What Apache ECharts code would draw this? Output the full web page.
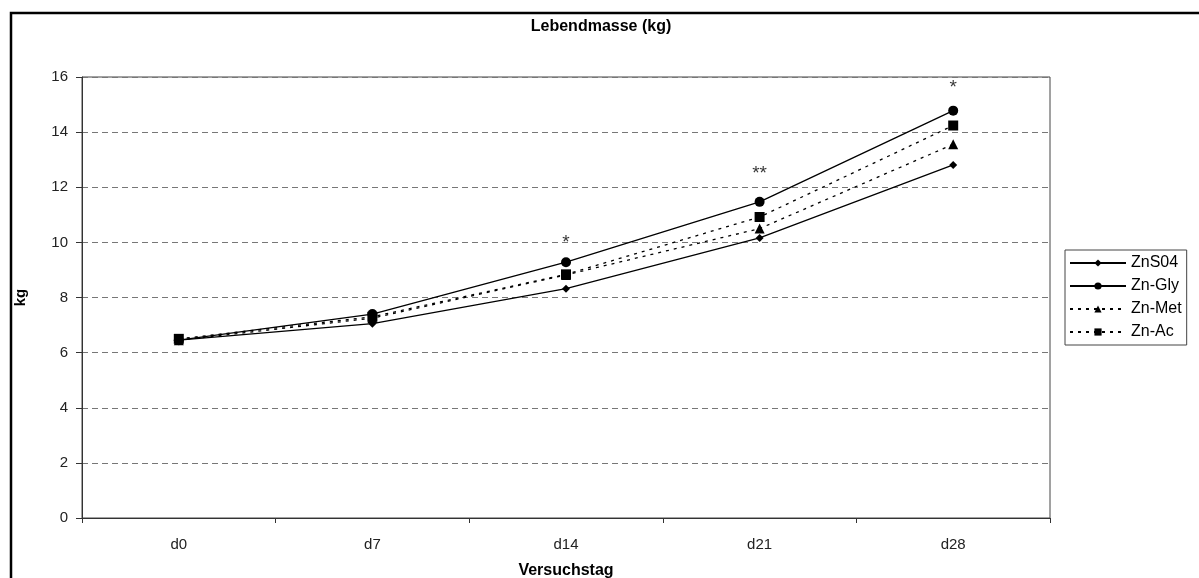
<!DOCTYPE html>
<html>
<head>
<meta charset="utf-8">
<script src="https://cdn.jsdelivr.net/npm/echarts@6/dist/echarts.min.js"></script>
<style>
  html, body { margin: 0; padding: 0; background: #fff; }
  #chart { width: 1199px; height: 578px; }
</style>
</head>
<body>
<div id="chart"></div>
<script>
// Versuchstage
const days = ['d0', 'd7', 'd14', 'd21', 'd28']
// Lebendmasse je Gruppe (kg)
const znSO4 = [6.45, 7.05, 8.32, 10.16, 12.81]
const znGly = [6.45, 7.4, 9.28, 11.47, 14.78]
const znMet = [6.45, 7.25, 8.82, 10.5, 13.56]
const znAc = [6.5, 7.3, 8.84, 10.92, 14.24]
// Signifikanz-Sterne
const sigText = ['', '', '*', '**', '*']
const sigY = [null, null, 10.0, 12.5, 15.6]
const yTicks = [0, 2, 4, 6, 8, 10, 12, 14, 16]

const font = 'Liberation Sans, Arial, sans-serif'
const chart = echarts.init(document.getElementById('chart'))

function lineSeries(name, data, symbol, size, dashed) {
    return {
        name: name,
        type: 'line',
        data: data,
        symbol: symbol,
        symbolSize: size,
        showSymbol: true,
        itemStyle: { color: '#000' },
        lineStyle: { color: '#000', width: 1.3, type: dashed ? [3, 5] : 'solid' },
        z: 3
    }
}

chart.setOption({
    animation: false,
    textStyle: { fontFamily: font },
    title: {
        text: 'Lebendmasse (kg)',
        left: 596,
        top: 14,
        textAlign: 'center',
        textStyle: { fontSize: 16, fontWeight: 'bold', color: '#000', fontFamily: font }
    },
    graphic: [{
        type: 'rect',
        shape: { x: 11, y: 13, width: 1300, height: 700 },
        style: { fill: 'none', stroke: '#000', lineWidth: 2.5 },
        silent: true
    }],
    legend: {
        left: 1065,
        top: 250,
        orient: 'vertical',
        itemWidth: 56,
        itemHeight: 9,
        itemGap: 7,
        padding: [5, 5, 5, 4],
        borderColor: '#444',
        borderWidth: 1,
        textStyle: { fontSize: 16, color: '#000', fontFamily: font },
        data: ['ZnS04', 'Zn-Gly', 'Zn-Met', 'Zn-Ac']
    },
    grid: {
        left: 82,
        top: 77,
        right: 149,
        bottom: 60,
        outerBoundsMode: 'none',
        containLabel: false,
        show: true,
        borderColor: '#444',
        borderWidth: 1
    },
    xAxis: {
        type: 'category',
        data: days,
        boundaryGap: true,
        name: 'Versuchstag',
        nameLocation: 'middle',
        nameGap: 45,
        nameTextStyle: { fontSize: 16, fontWeight: 'bold', color: '#000', fontFamily: font },
        axisLine: { lineStyle: { color: '#333', width: 1 } },
        axisTick: { show: true, length: 5, lineStyle: { color: '#333' } },
        axisLabel: { fontSize: 15, color: '#222', margin: 19, fontFamily: font },
        splitLine: { show: false }
    },
    yAxis: {
        type: 'value',
        min: 0,
        max: 16,
        interval: 2,
        name: 'kg',
        nameLocation: 'middle',
        nameGap: 54,
        nameRotate: 90,
        nameTextStyle: { fontSize: 15, fontWeight: 'bold', color: '#000', fontFamily: font },
        axisLine: { show: true, lineStyle: { color: '#333', width: 1 } },
        axisTick: { show: true, length: 6, lineStyle: { color: '#333' } },
        axisLabel: {
            fontSize: 15, color: '#222', margin: 14, fontFamily: font,
            formatter: (v) => yTicks.includes(v) ? String(v) : ''
        },
        splitLine: { show: true, lineStyle: { color: '#777', type: [6, 4], width: 1 } }
    },
    series: [
        lineSeries('ZnS04', znSO4, 'diamond', 8, false),
        lineSeries('Zn-Gly', znGly, 'circle', 10, false),
        lineSeries('Zn-Met', znMet, 'triangle', 10, true),
        lineSeries('Zn-Ac', znAc, 'rect', 10, true),
        {
            name: 'sig',
            type: 'scatter',
            data: sigY.map((v, i) => [days[i], v]),
            symbolSize: 1,
            itemStyle: { color: 'rgba(0,0,0,0)' },
            label: {
                show: true,
                position: 'inside',
                formatter: (p) => sigText[p.dataIndex],
                fontSize: 19,
                color: '#000',
                fontFamily: font
            },
            silent: true
        }
    ]
})
</script>
</body>
</html>
